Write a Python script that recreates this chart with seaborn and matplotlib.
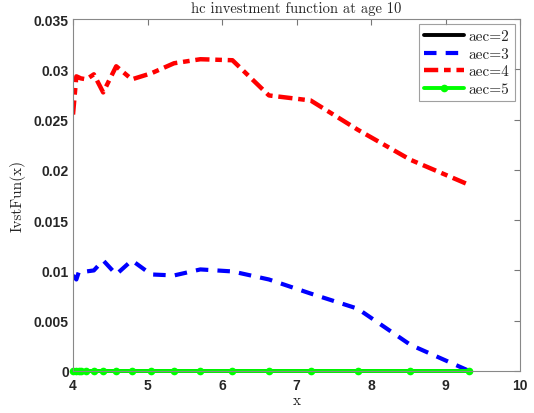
import matplotlib
matplotlib.use("Agg")
import matplotlib.pyplot as plt
import seaborn as sns
import numpy as np
import pandas as pd

x_grid = [4.0, 4.045, 4.076, 4.103, 4.18, 4.28, 4.405, 4.58, 4.79, 5.05,
          5.356, 5.71, 6.14, 6.63, 7.19, 7.82, 8.53, 9.32]
aec2 = [0.0] * 18
aec3 = [0.0095, 0.0091, 0.0098, 0.0097, 0.0099, 0.0100, 0.0110, 0.0096, 0.0110, 0.0096,
        0.0095, 0.0101, 0.0099, 0.0091, 0.0077, 0.0062, 0.0026, 0.0]
aec4 = [0.0255, 0.0293, 0.0292, 0.0291, 0.0290, 0.0295, 0.0277, 0.0303, 0.0290, 0.0296,
        0.0306, 0.0310, 0.0309, 0.0274, 0.0269, 0.0240, 0.0210, 0.0185]
aec5 = [0.0] * 18
labels = ["aec=2", "aec=3", "aec=4", "aec=5"]
title = "hc investment function at age 10"
xlabel = "x"
ylabel = "IvstFun(x)"
xticks = [4, 5, 6, 7, 8, 9, 10]
yticks = [0, 0.005, 0.01, 0.015, 0.02, 0.025, 0.03, 0.035]
ytick_labels = ["0", "0.005", "0.01", "0.015", "0.02", "0.025", "0.03", "0.035"]

sns.set_style("white")
plt.rcParams['font.family'] = ['Liberation Sans', 'DejaVu Sans']

fig = plt.figure(figsize=(5.34, 4.14), dpi=100)
ax = fig.add_axes([73/534, 1 - 372/414, (520-73)/534, (372-20)/414])

series = [aec2, aec3, aec4, aec5]
styles = [dict(color="black", linestyle="-", linewidth=2.8, clip_on=False),
          dict(color="blue", linestyle=(0, (3.0, 2.2)), linewidth=3.0),
          dict(color="red", linestyle=(0, (3.2, 1.3, 1.5, 1.3)), linewidth=3.2),
          dict(color="#00ff00", linestyle="-", linewidth=2.8, marker="o", markersize=5.5,
               markeredgewidth=0, clip_on=False)]
for vals, lab, st in zip(series, labels, styles):
    sns.lineplot(x=x_grid, y=vals, ax=ax, label=lab, **st)

ax.set_xlim(4, 10)
ax.set_ylim(0, 0.035)
ax.set_xticks(xticks)
ax.set_yticks(yticks)
ax.set_yticklabels(ytick_labels)
for t in ax.get_xticklabels() + ax.get_yticklabels():
    t.set_fontweight("bold")
    t.set_fontsize(10)
    t.set_color("#262626")
ax.tick_params(direction="in", top=True, right=True, length=4, width=0.8, color="#777777")
ax.tick_params(axis="x", pad=5)
ax.tick_params(axis="y", pad=3)
for s in ax.spines.values():
    s.set_color("#888888")
    s.set_linewidth(0.8)

serif = "cmr10"
ax.set_title(title, fontfamily=serif, fontsize=10.5, pad=5)
ax.set_xlabel(xlabel, fontfamily=serif, fontsize=11, labelpad=1)
ax.set_ylabel(ylabel, fontfamily=serif, fontsize=11, labelpad=6)

leg = ax.legend(loc="upper right", prop={"family": serif, "size": 11}, frameon=True,
                fancybox=False, edgecolor="#888888", handlelength=2.6, handletextpad=0.3,
                borderpad=0.35, labelspacing=0.25, borderaxespad=0.35)
leg.get_frame().set_linewidth(0.8)

fig.savefig("out.png", dpi=100)
